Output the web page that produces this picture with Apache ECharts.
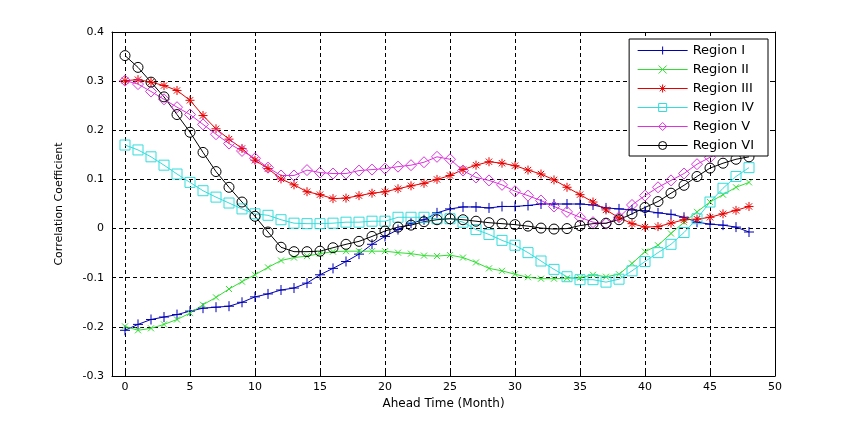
<!DOCTYPE html>
<html>
<head>
<meta charset="utf-8">
<script src="https://cdn.jsdelivr.net/npm/echarts@6/dist/echarts.min.js"></script>
<style>
  html, body { margin: 0; padding: 0; background: #fff; }
  #chart { width: 856px; height: 422px; }
</style>
</head>
<body>
<div id="chart"></div>
<script>
// ahead time in months, 0..48
var months = [];
for (var m = 0; m <= 48; m++) months.push(m);

var xTicks = [0, 5, 10, 15, 20, 25, 30, 35, 40, 45, 50];
var yTicks = [-0.3, -0.2, -0.1, 0, 0.1, 0.2, 0.3, 0.4];

var regionI = [-0.207, -0.195, -0.185, -0.180, -0.175, -0.168, -0.162, -0.160, -0.158, -0.150,
  -0.139, -0.133, -0.125, -0.121, -0.111, -0.094, -0.081, -0.067, -0.052, -0.032,
  -0.016, -0.002, 0.011, 0.018, 0.032, 0.040, 0.044, 0.044, 0.042, 0.045,
  0.045, 0.047, 0.050, 0.050, 0.050, 0.050, 0.048, 0.042, 0.040, 0.038,
  0.036, 0.032, 0.029, 0.023, 0.013, 0.009, 0.007, 0.003, -0.007];

var regionII = [-0.199, -0.207, -0.203, -0.195, -0.185, -0.172, -0.155, -0.140, -0.123, -0.108,
  -0.094, -0.079, -0.065, -0.059, -0.056, -0.051, -0.047, -0.046, -0.046, -0.046,
  -0.046, -0.049, -0.051, -0.055, -0.056, -0.054, -0.059, -0.069, -0.081, -0.086,
  -0.093, -0.099, -0.102, -0.102, -0.101, -0.100, -0.094, -0.098, -0.093, -0.071,
  -0.047, -0.034, -0.010, 0.013, 0.034, 0.054, 0.069, 0.084, 0.094];

var regionIII = [0.301, 0.303, 0.298, 0.291, 0.281, 0.261, 0.230, 0.203, 0.182, 0.163,
  0.139, 0.122, 0.101, 0.089, 0.075, 0.069, 0.061, 0.062, 0.067, 0.072,
  0.075, 0.081, 0.087, 0.092, 0.100, 0.108, 0.120, 0.129, 0.136, 0.133,
  0.128, 0.119, 0.111, 0.099, 0.084, 0.069, 0.054, 0.038, 0.022, 0.010,
  0.003, 0.004, 0.011, 0.018, 0.019, 0.023, 0.030, 0.037, 0.045];

var regionIV = [0.170, 0.160, 0.146, 0.129, 0.111, 0.094, 0.077, 0.064, 0.052, 0.040,
  0.030, 0.027, 0.018, 0.011, 0.010, 0.010, 0.011, 0.013, 0.013, 0.015,
  0.015, 0.023, 0.023, 0.023, 0.020, 0.020, 0.013, -0.002, -0.012, -0.024,
  -0.034, -0.049, -0.066, -0.083, -0.098, -0.104, -0.104, -0.109, -0.103, -0.086,
  -0.067, -0.049, -0.032, -0.008, 0.020, 0.054, 0.082, 0.106, 0.124];

var regionV = [0.301, 0.294, 0.279, 0.263, 0.247, 0.232, 0.212, 0.192, 0.173, 0.158,
  0.143, 0.124, 0.108, 0.108, 0.119, 0.114, 0.112, 0.112, 0.118, 0.120,
  0.122, 0.126, 0.129, 0.135, 0.146, 0.141, 0.118, 0.104, 0.098, 0.089,
  0.076, 0.067, 0.057, 0.045, 0.034, 0.023, 0.013, 0.010, 0.023, 0.048,
  0.067, 0.084, 0.098, 0.112, 0.131, 0.145, 0.158, 0.170, 0.182];

var regionVI = [0.352, 0.328, 0.298, 0.268, 0.232, 0.196, 0.155, 0.116, 0.084, 0.054,
  0.025, -0.007, -0.038, -0.047, -0.047, -0.046, -0.039, -0.032, -0.026, -0.016,
  -0.005, 0.003, 0.007, 0.014, 0.018, 0.020, 0.018, 0.015, 0.012, 0.010,
  0.008, 0.005, 0.001, -0.001, 0.000, 0.006, 0.010, 0.011, 0.018, 0.030,
  0.043, 0.055, 0.072, 0.088, 0.106, 0.123, 0.133, 0.141, 0.146];

var names = ['Region I', 'Region II', 'Region III', 'Region IV', 'Region V', 'Region VI'];
var values = [regionI, regionII, regionIII, regionIV, regionV, regionVI];
var colors = ['#0000b4', '#33dd33', '#e80000', '#33dddd', '#dd33dd', '#000000'];
var symbols = [
  'path://M5,0L5,10M0,5L10,5',
  'path://M0,0L10,10M10,0L0,10',
  'path://M5,0L5,10M0,5L10,5M1.5,1.5L8.5,8.5M8.5,1.5L1.5,8.5',
  'rect',
  'diamond',
  'circle'
];
var sizes = [10, 6, 9, 10, 11, 10];

var font = 'DejaVu Sans';

function pairs(arr) {
  return arr.map(function (v, i) { return [months[i], v]; });
}

var series = names.map(function (n, k) {
  return {
    name: n,
    type: 'line',
    data: pairs(values[k]),
    symbol: symbols[k],
    symbolSize: sizes[k],
    showAllSymbol: true,
    animation: false,
    lineStyle: { color: colors[k], width: 1 },
    itemStyle: { color: 'none', borderColor: colors[k], borderWidth: 1 },
    emphasis: { disabled: true }
  };
});

function yFmt(v) {
  var r = Math.round(v * 10) / 10;
  return r === 0 ? '0' : r.toFixed(1);
}

var chart = echarts.init(document.getElementById('chart'));
chart.setOption({
  backgroundColor: '#fff',
  animation: false,
  grid: { left: 112, right: 81, top: 32, bottom: 46 },
  legend: {
    data: names,
    orient: 'vertical',
    right: 88,
    top: 39,
    z: 20,
    itemWidth: 50,
    itemHeight: 10,
    itemGap: 6,
    padding: [5, 14, 4, 8],
    borderColor: '#000',
    borderWidth: 1,
    backgroundColor: '#fff',
    lineStyle: { width: 1 },
    itemStyle: { color: 'transparent', borderWidth: 1 },
    textStyle: { fontFamily: font, fontSize: 13, color: '#000' }
  },
  xAxis: [{
    type: 'value',
    min: -1,
    max: 50,
    splitNumber: 10,
    minInterval: 5,
    maxInterval: 5,
    name: 'Ahead Time (Month)',
    nameLocation: 'middle',
    nameGap: 22,
    nameTextStyle: { fontFamily: font, fontSize: 12, color: '#000' },
    axisLine: { onZero: false, lineStyle: { color: '#000' } },
    axisTick: { inside: true, length: 4, lineStyle: { color: '#000' } },
    axisLabel: {
      fontFamily: font, fontSize: 11, color: '#000', margin: 6,
      formatter: function (v) { return xTicks.indexOf(v) >= 0 ? String(v) : ''; }
    },
    splitLine: { show: true, lineStyle: { color: '#000', type: [4, 3], width: 1 } }
  }, {
    type: 'value',
    position: 'top',
    min: -1,
    max: 50,
    splitNumber: 10,
    minInterval: 5,
    maxInterval: 5,
    axisLine: { onZero: false, lineStyle: { color: '#000' } },
    axisTick: { inside: true, length: 4, lineStyle: { color: '#000' } },
    axisLabel: { show: false },
    splitLine: { show: false }
  }],
  yAxis: [{
    type: 'value',
    min: yTicks[0],
    max: yTicks[yTicks.length - 1],
    interval: 0.1,
    name: 'Correlation Coefficient',
    nameLocation: 'middle',
    nameGap: 47,
    nameTextStyle: { fontFamily: font, fontSize: 11, color: '#000' },
    axisLine: { show: true, onZero: false, lineStyle: { color: '#000' } },
    axisTick: { show: true, inside: true, length: 4, lineStyle: { color: '#000' } },
    axisLabel: { fontFamily: font, fontSize: 11, color: '#000', margin: 8, formatter: yFmt },
    splitLine: { show: true, lineStyle: { color: '#000', type: [4, 3], width: 1 } }
  }, {
    type: 'value',
    position: 'right',
    min: yTicks[0],
    max: yTicks[yTicks.length - 1],
    interval: 0.1,
    axisLine: { show: true, onZero: false, lineStyle: { color: '#000' } },
    axisTick: { show: true, inside: true, length: 4, lineStyle: { color: '#000' } },
    axisLabel: { show: false },
    splitLine: { show: false }
  }],
  series: series
});
</script>
</body>
</html>
